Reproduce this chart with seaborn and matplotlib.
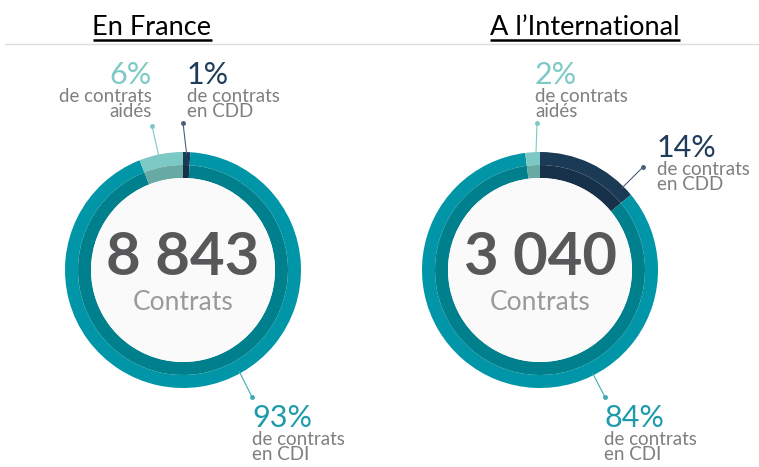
import numpy as np
import matplotlib
matplotlib.use("Agg")
import matplotlib.pyplot as plt
from matplotlib.patches import Circle
import seaborn as sns

# data
regions = ["En France", "A l\u2019International"]
totals = ["8 843", "3 040"]
categories = ["CDD", "CDI", "aid\u00e9s"]
france_pct = [1, 93, 6]
inter_pct = [14, 84, 2]
pct_labels = {"CDD": "de contrats\nen CDD", "CDI": "de contrats\nen CDI", "aid\u00e9s": "de contrats\naid\u00e9s"}

# figure in pixel units (y measured from the top)
W, H = 759, 467
R = 118
BAND = 13

outer_cols = {"CDD": "#1B3A56", "CDI": "#0096A7", "aid\u00e9s": "#7CC8C4"}
inner_cols = {"CDD": "#163149", "CDI": "#007F8D", "aid\u00e9s": "#66A9A5"}
text_cols = {"CDD": "#1F3D5A", "CDI": "#1E9BAA", "aid\u00e9s": "#7DC9C5"}
line_cols = {"CDD": "#4A6079", "CDI": "#3FA9B6", "aid\u00e9s": "#7DC9C5"}

# layout per donut: centre, title x, and per category (leader angle, dot, text anchor, ha)
layouts = [
    dict(cx=183, cy=270, tx=152,
         ann={"aid\u00e9s": (-12, (152, 126), (152, 75), "right"),
              "CDD": (1.8, (183, 123), (187, 75), "left"),
              "CDI": (151, (252, 397), (252, 418), "left")}),
    dict(cx=540, cy=270, tx=585,
         ann={"aid\u00e9s": (-2, (537, 123), (535, 75), "left"),
              "CDD": (45, (643, 167), (657, 148), "left"),
              "CDI": (153, (605, 397), (604, 418), "left")}),
]

sns.set_theme(style="white")
plt.rcParams['font.family'] = ['Lato', 'DejaVu Sans']

fig = plt.figure(figsize=(W / 100, H / 100), dpi=100)
ax = fig.add_axes([0, 0, 1, 1])


def py(y):
    return H - y


titles = []
for values, total, region, lay in zip([france_pct, inter_pct], totals, regions, layouts):
    cx, cy = lay["cx"], py(lay["cy"])
    ax.pie(values, radius=R, center=(cx, cy), startangle=90, counterclock=False,
           colors=[outer_cols[c] for c in categories],
           wedgeprops=dict(width=BAND, linewidth=0, antialiased=True))
    ax.pie(values, radius=R - BAND, center=(cx, cy), startangle=90, counterclock=False,
           colors=[inner_cols[c] for c in categories],
           wedgeprops=dict(width=BAND, linewidth=0, antialiased=True))
    ax.add_patch(Circle((cx, cy), R - 2 * BAND, facecolor="#FAFAFA", edgecolor="none"))

    ax.text(cx, cy + 12, total, ha="center", va="center", fontsize=43,
            fontweight="bold", color="#58585A")
    ax.text(cx, cy - 32, "Contrats", ha="center", va="center", fontsize=19,
            color="#9A9A9A")

    for cat, v in zip(categories, values):
        ang, dot, anchor, ha = lay["ann"][cat]
        a = np.deg2rad(ang)
        x0, y0 = cx + (R - 2) * np.sin(a), cy + (R - 2) * np.cos(a)
        ax.plot([x0, dot[0]], [y0, py(dot[1])], color=line_cols[cat], lw=0.8)
        ax.plot(dot[0], py(dot[1]), "o", ms=2.5, color=line_cols[cat])
        ax.text(anchor[0], py(anchor[1]), f"{v}%", ha=ha, va="center",
                fontsize=22, color=text_cols[cat])
        ax.text(anchor[0], py(anchor[1] + 13), pct_labels[cat], ha=ha, va="top",
                fontsize=13.5, color="#7F7F7F", linespacing=0.85)

    titles.append(ax.text(lay["tx"], py(35), region, ha="center", va="baseline",
                          fontsize=19.5, color="black"))

# separator under the titles
ax.plot([5, W], [py(44), py(44)], color="#DDDDDD", lw=1)

ax.set_xlim(0, W)
ax.set_ylim(0, H)
ax.set_aspect("equal")
ax.axis("off")

# underline the titles
fig.canvas.draw()
renderer = fig.canvas.get_renderer()
inv = ax.transData.inverted()
for t in titles:
    bb = t.get_window_extent(renderer)
    (x0, _), (x1, _) = inv.transform([(bb.x0, bb.y0), (bb.x1, bb.y0)])
    ax.plot([x0, x1], [py(40), py(40)], color="black", lw=1.8, solid_capstyle="butt")

fig.savefig("out.png", dpi=100)
plt.close(fig)
